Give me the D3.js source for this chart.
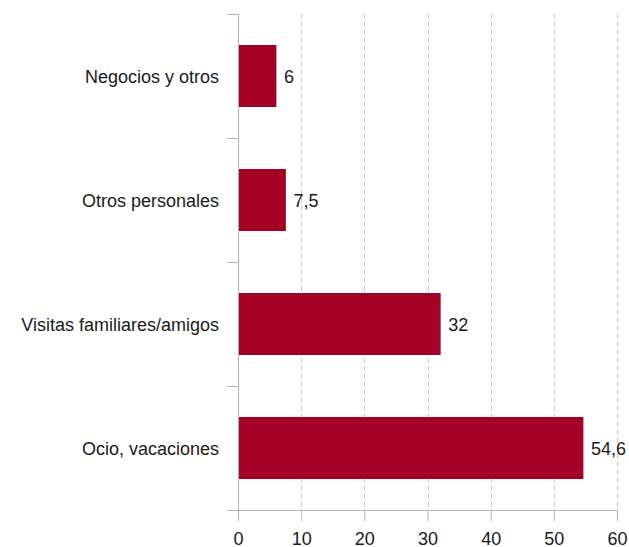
<!DOCTYPE html>
<html>
<head>
<meta charset="utf-8">
<script src="https://cdn.jsdelivr.net/npm/d3@7"></script>
<style>
  body { margin: 0; background: #fff; }
  text { font-family: "Liberation Sans", Arial, sans-serif; fill: #1a1a1a; }
</style>
</head>
<body>
<div id="chart"></div>
<script>
// --- data ---
const categories = ["Negocios y otros", "Otros personales", "Visitas familiares/amigos", "Ocio, vacaciones"];
const values     = [6, 7.5, 32, 54.6];
const xTicks     = [0, 10, 20, 30, 40, 50, 60];

// --- sizing ---
const margin = { top: 14, right: 12, bottom: 37, left: 238 },
      width  = 629 - margin.left - margin.right,
      height = 547 - margin.top  - margin.bottom;

const svg = d3.select("#chart")
  .append("svg")
  .attr("width",  width  + margin.left + margin.right)
  .attr("height", height + margin.top  + margin.bottom)
  .append("g")
  .attr("transform", `translate(${margin.left},${margin.top})`);

const x = d3.scaleLinear().domain([0, 60]).range([0, width]);

const y = d3.scaleBand()
  .domain(categories)
  .range([0, height])
  .paddingInner(0.5)
  .paddingOuter(0.25);

const es = d3.formatLocale({ decimal: ",", thousands: ".", grouping: [3], currency: ["", "€"] });
const fmt = es.format("~g");

const axisColor = "#b3b3b3";

// gridlines (dashed)
svg.append("g")
  .selectAll("line")
  .data(xTicks.filter(d => d > 0))
  .enter().append("line")
  .attr("x1", d => Math.round(x(d)) + 0.5)
  .attr("x2", d => Math.round(x(d)) + 0.5)
  .attr("y1", 0)
  .attr("y2", height)
  .attr("stroke", "#c8c8c8")
  .attr("stroke-dasharray", "5,3");

// bars
svg.append("g")
  .selectAll("rect")
  .data(categories.map((c, i) => ({ c, v: values[i] })))
  .enter().append("rect")
  .attr("x", x(0) + 0.5)
  .attr("y", d => y(d.c))
  .attr("width", d => x(d.v) - x(0))
  .attr("height", y.bandwidth())
  .attr("fill", "#a50026");

// value labels
svg.append("g")
  .selectAll("text")
  .data(categories.map((c, i) => ({ c, v: values[i] })))
  .enter().append("text")
  .attr("x", d => x(d.v) + 8)
  .attr("y", d => y(d.c) + y.bandwidth() / 2 + 6.5)
  .style("font-size", "18px")
  .text(d => fmt(d.v));

// y axis: line + ticks at band boundaries
const yAxis = svg.append("g");
yAxis.append("line")
  .attr("x1", 0.5).attr("x2", 0.5)
  .attr("y1", 0).attr("y2", height)
  .attr("stroke", axisColor);

const bounds = d3.range(categories.length + 1).map(i => i * y.step());
yAxis.selectAll("line.tick")
  .data(bounds)
  .enter().append("line")
  .attr("class", "tick")
  .attr("x1", -11).attr("x2", 0.5)
  .attr("y1", d => Math.round(d) + 0.5)
  .attr("y2", d => Math.round(d) + 0.5)
  .attr("stroke", axisColor);

yAxis.selectAll("text")
  .data(categories)
  .enter().append("text")
  .attr("x", -19)
  .attr("y", d => y(d) + y.bandwidth() / 2 + 6.5)
  .attr("text-anchor", "end")
  .style("font-size", "18px")
  .text(d => d);

// x axis
const xAxis = svg.append("g")
  .attr("transform", `translate(0,${height})`)
  .call(d3.axisBottom(x).tickValues(xTicks).tickSize(11).tickPadding(11).tickFormat(fmt));

xAxis.select(".domain").remove();
xAxis.append("line")
  .attr("x1", -11).attr("x2", width)
  .attr("y1", 0.5).attr("y2", 0.5)
  .attr("stroke", axisColor);
xAxis.selectAll(".tick line").attr("stroke", axisColor);
xAxis.selectAll(".tick text")
  .attr("fill", "#1a1a1a")
  .style("font-family", "'Liberation Sans', Arial, sans-serif")
  .style("font-size", "18px");
</script>
</body>
</html>
